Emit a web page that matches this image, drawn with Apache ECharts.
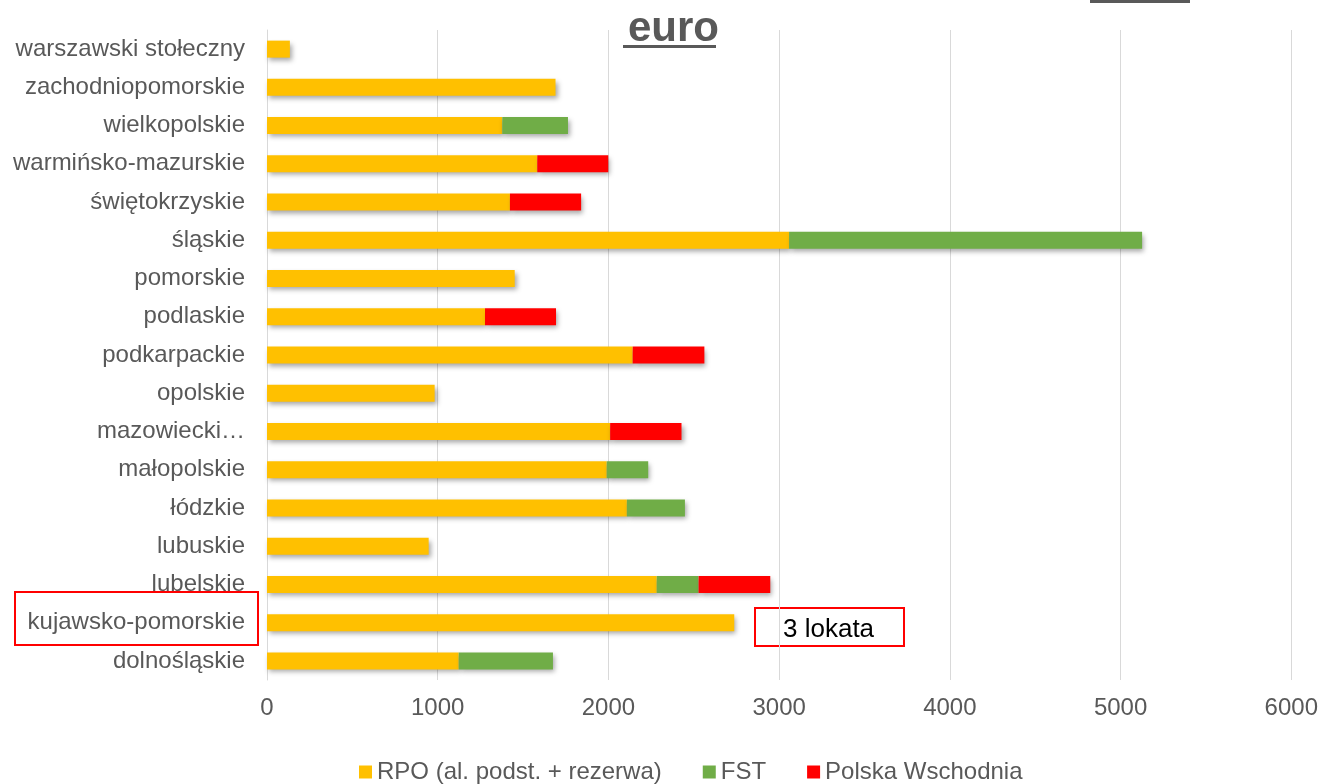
<!DOCTYPE html>
<html>
<head>
<meta charset="utf-8">
<script src="https://cdn.jsdelivr.net/npm/echarts@6/dist/echarts.min.js"></script>
<style>
html,body{margin:0;padding:0;background:#fff;}
#chart{width:1321px;height:784px;}
</style>
</head>
<body>
<div id="chart"></div>
<script>
// Categories, bottom to top
var categories = ['dolnośląskie','kujawsko-pomorskie','lubelskie','lubuskie','łódzkie','małopolskie','mazowiecki…','opolskie','podkarpackie','podlaskie','pomorskie','śląskie','świętokrzyskie','warmińsko-mazurskie','wielkopolskie','zachodniopomorskie','warszawski stołeczny'];
var rpo = [1123, 2737, 2283, 947, 2108, 1990, 2010, 982, 2142, 1277, 1451, 3058, 1423, 1583, 1378, 1690, 134];
var fst = [552, null, 245, null, 340, 243, null, null, null, null, null, 2068, null, null, 385, null, null];
var pw  = [null, null, 420, null, null, null, 418, null, 420, 416, null, null, 417, 416, null, null, null];
var xTicks = [0, 1000, 2000, 3000, 4000, 5000, 6000];
var seriesNames = ['RPO (al. podst. + rezerwa)', 'FST', 'Polska Wschodnia'];
var titleText = 'euro';
var noteText = '3 lokata';

var FONT = 'Liberation Sans';
var GRAY = '#595959';
var FS = 24;
var shadow = {shadowColor:'rgba(0,0,0,0.35)', shadowBlur:5, shadowOffsetX:2, shadowOffsetY:3};

function mk(name, data, color){
  return {
    name:name, type:'bar', stack:'total', data:data, barWidth:17,
    itemStyle:Object.assign({color:color}, shadow),
    emphasis:{disabled:true}
  };
}

var chart = echarts.init(document.getElementById('chart'), null, {renderer:'canvas'});
chart.setOption({
  animation:false,
  backgroundColor:'#fff',
  textStyle:{fontFamily:FONT},
  title:{
    text:titleText, left:623, top:3,
    textStyle:{fontFamily:FONT, fontSize:42, fontWeight:'bold', color:GRAY}
  },
  grid:{left:267, right:27, top:30, bottom:104, containLabel:false},
  xAxis:{
    type:'value', min:xTicks[0], max:xTicks[xTicks.length-1], interval:1000,
    axisLine:{show:false}, axisTick:{show:false},
    splitLine:{lineStyle:{color:'#d9d9d9', width:1}},
    axisLabel:{fontSize:FS, color:GRAY, margin:16, fontFamily:FONT, formatter:function(v){return String(v);}}
  },
  yAxis:{
    type:'category', data:categories,
    axisLine:{show:true, lineStyle:{color:'#d9d9d9', width:1}},
    axisTick:{show:false},
    axisLabel:{fontSize:FS, color:GRAY, margin:22, fontFamily:FONT}
  },
  legend:{
    bottom:0, left:354, padding:[0,5,0,5], icon:'rect', itemWidth:13, itemHeight:13, itemGap:41, itemStyle:{shadowBlur:0, shadowOffsetX:0, shadowOffsetY:0},
    textStyle:{fontSize:FS, color:GRAY, fontFamily:FONT},
    data:seriesNames
  },
  series:[
    mk(seriesNames[0], rpo, '#FFC000'),
    mk(seriesNames[1], fst, '#70AD47'),
    mk(seriesNames[2], pw, '#FF0000')
  ],
  graphic:[
    {type:'rect', shape:{x:623, y:45, width:93, height:3}, style:{fill:GRAY}, silent:true},
    {type:'rect', shape:{x:1090, y:0, width:100, height:3}, style:{fill:GRAY}, silent:true},
    {type:'rect', shape:{x:15, y:592, width:243, height:53}, style:{fill:'none', stroke:'#FF0000', lineWidth:2}, silent:true},
    {type:'rect', shape:{x:755, y:608, width:149, height:38}, style:{fill:'#fff', stroke:'#FF0000', lineWidth:2}, silent:true},
    {type:'text', x:783, y:617, style:{text:noteText, fontSize:26, fill:'#000', fontFamily:FONT}, silent:true}
  ]
});
</script>
</body>
</html>
